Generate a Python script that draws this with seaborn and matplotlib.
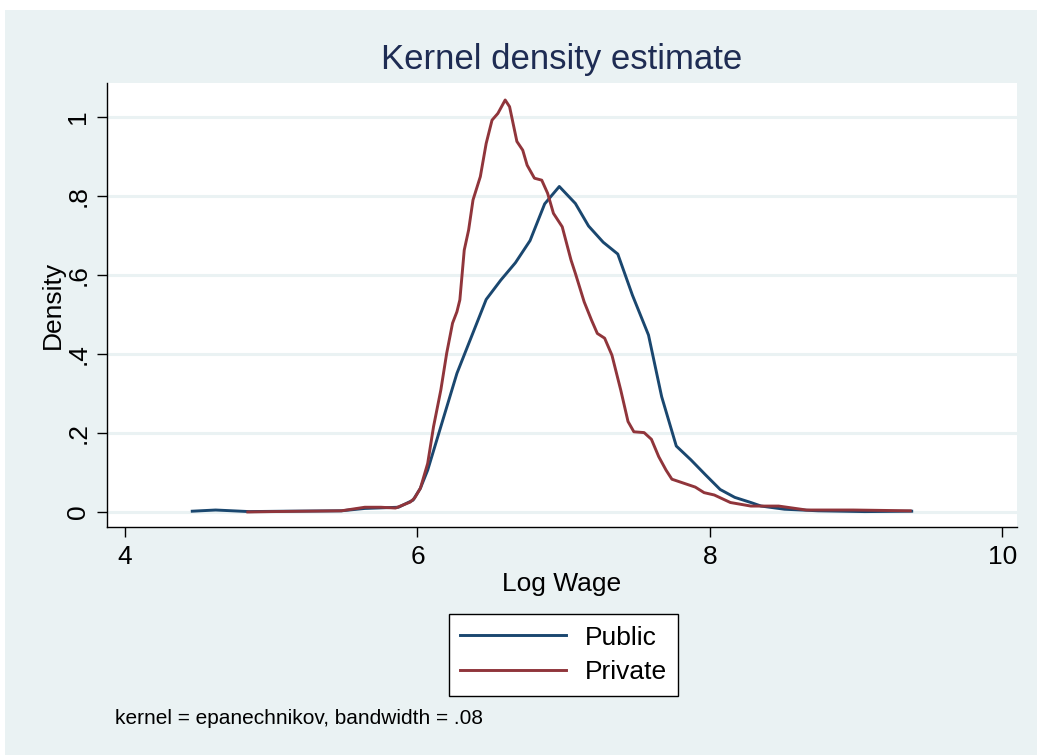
import matplotlib
matplotlib.use("Agg")
import matplotlib.pyplot as plt
from matplotlib.patches import Rectangle
import numpy as np
import pandas as pd
import seaborn as sns

# Kernel density curves
public_x = [4.46, 4.62, 4.85, 5.10, 5.48, 5.64, 5.87, 5.97, 6.02, 6.07, 6.27, 6.47,
            6.57, 6.67, 6.77, 6.87, 6.97, 7.08, 7.17, 7.27, 7.37, 7.47, 7.58, 7.67,
            7.77, 7.87, 7.97, 8.07, 8.17, 8.28, 8.35, 8.51, 8.74, 9.06, 9.38]
public_y = [0.002, 0.005, 0.001, 0.002, 0.003, 0.009, 0.012, 0.030, 0.060, 0.106,
            0.351, 0.538, 0.587, 0.631, 0.687, 0.780, 0.824, 0.781, 0.724, 0.683,
            0.653, 0.549, 0.448, 0.292, 0.167, 0.132, 0.094, 0.057, 0.037, 0.024,
            0.015, 0.007, 0.003, 0.001, 0.002]

private_x = [4.84, 5.00, 5.48, 5.64, 5.75, 5.85, 5.95, 5.98, 6.02, 6.07, 6.11, 6.16,
             6.20, 6.24, 6.27, 6.29, 6.32, 6.35, 6.38, 6.43, 6.47, 6.51, 6.55, 6.60,
             6.63, 6.68, 6.72, 6.75, 6.80, 6.85, 6.89, 6.93, 6.99, 7.05, 7.08, 7.14,
             7.19, 7.23, 7.28, 7.33, 7.39, 7.44, 7.48, 7.55, 7.60, 7.65, 7.70, 7.74,
             7.82, 7.90, 7.96, 8.03, 8.14, 8.28, 8.47, 8.66, 8.98, 9.37]
private_y = [0.000, 0.001, 0.003, 0.012, 0.012, 0.010, 0.025, 0.035, 0.060, 0.123,
             0.216, 0.309, 0.402, 0.478, 0.507, 0.537, 0.663, 0.714, 0.790, 0.849,
             0.933, 0.992, 1.009, 1.043, 1.026, 0.938, 0.916, 0.878, 0.845, 0.840,
             0.807, 0.756, 0.722, 0.638, 0.604, 0.532, 0.486, 0.452, 0.440, 0.397,
             0.309, 0.229, 0.203, 0.201, 0.184, 0.140, 0.106, 0.083, 0.073, 0.063,
             0.049, 0.043, 0.024, 0.015, 0.015, 0.005, 0.005, 0.003]

x_ticks = [4, 6, 8, 10]
y_ticks = [0, 0.2, 0.4, 0.6, 0.8, 1.0]
y_tick_labels = ["0", ".2", ".4", ".6", ".8", "1"]

NAVY = "#1a476f"
MAROON = "#90353b"
PANEL = "#eaf2f3"

df = pd.concat([
    pd.DataFrame({"x": public_x, "y": public_y, "group": "Public"}),
    pd.DataFrame({"x": private_x, "y": private_y, "group": "Private"}),
], ignore_index=True)

plt.rcParams["font.family"] = ["Liberation Sans", "DejaVu Sans"]

fig = plt.figure(figsize=(10.37, 7.55), dpi=100, facecolor="white")
fig.patches.append(Rectangle((5 / 1037, 0), 1, 1 - 10 / 755, transform=fig.transFigure,
                             facecolor=PANEL, edgecolor="none", zorder=-10))

ax = fig.add_axes([107 / 1037, 1 - 527 / 755, 910 / 1037, 444 / 755])
ax.set_zorder(1)
ax.set_facecolor("white")

sns.lineplot(data=df, x="x", y="y", hue="group", palette={"Public": NAVY, "Private": MAROON},
             sort=False, estimator=None, linewidth=2.1, legend=False, ax=ax)

ax.set_xlim(3.877, 10.10)
ax.set_ylim(-0.038, 1.086)
ax.set_xticks(x_ticks)
ax.set_xticklabels([str(t) for t in x_ticks])
ax.set_yticks(y_ticks)
ax.set_yticklabels(y_tick_labels, rotation=90, va="center")
ax.tick_params(axis="both", labelsize=19, length=7, width=1, color="black", labelcolor="black")
ax.tick_params(axis="x", pad=6)
ax.tick_params(axis="y", pad=5)

for v in y_ticks:
    ax.axhline(v, color=PANEL, linewidth=2.2, zorder=0)

for side in ["top", "right"]:
    ax.spines[side].set_visible(False)
for side in ["left", "bottom"]:
    ax.spines[side].set_color("black")
    ax.spines[side].set_linewidth(1.0)

ax.set_xlabel("Log Wage", fontsize=19, labelpad=2)
ax.set_ylabel("Density", fontsize=19, labelpad=1)

fig.text(0.5 * (107 + 1017) / 1037, 1 - 60 / 755, "Kernel density estimate", fontsize=25,
         color="#1e2c53", ha="center", va="center")

lines = ax.get_lines()
handles = [lines[0], lines[1]]
leg = fig.legend(handles, ["Public", "Private"], loc="center",
                 bbox_to_anchor=(563.5 / 1037, 1 - 655 / 755), fontsize=19,
                 frameon=True, fancybox=False, edgecolor="black", facecolor="white",
                 framealpha=1, handlelength=4.0, handletextpad=0.7, borderpad=0.45,
                 labelspacing=0.4)
leg.get_frame().set_linewidth(1.0)

fig.text(115 / 1037, 1 - 718 / 755, "kernel = epanechnikov, bandwidth = .08", fontsize=15,
         ha="left", va="center")

fig.savefig("out.png", dpi=100, facecolor=fig.get_facecolor())
